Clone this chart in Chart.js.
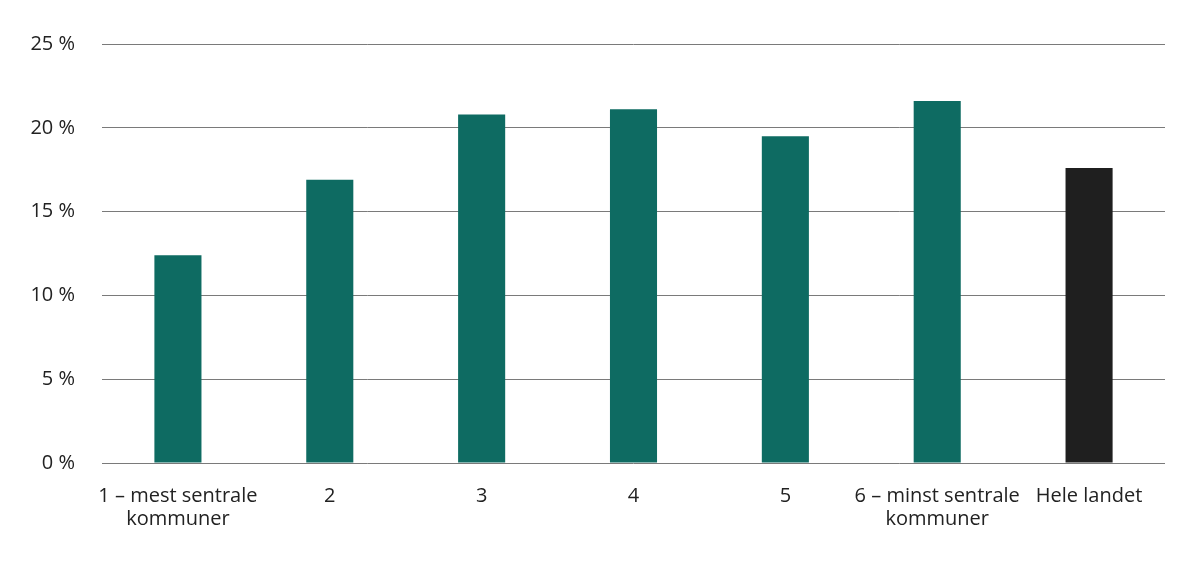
<!DOCTYPE html>
<html>
<head>
<meta charset="utf-8">
<script src="https://cdn.jsdelivr.net/npm/chart.js@4"></script>
<style>
  html, body { margin: 0; padding: 0; background: #fff; }
  #wrap { width: 1200px; height: 568px; }
</style>
</head>
<body>
<div id="wrap"><canvas id="myChart" width="1200" height="568"></canvas></div>
<script>
const categories = [
  ['1 – mest sentrale', 'kommuner'],
  '2',
  '3',
  '4',
  '5',
  ['6 – minst sentrale', 'kommuner'],
  'Hele landet'
];
const shares = [12.4, 16.9, 20.8, 21.1, 19.5, 21.6, 17.6];
const barColors = ['#0e6b62', '#0e6b62', '#0e6b62', '#0e6b62', '#0e6b62', '#0e6b62', '#1f1f1f'];
const yTicks = [0, 5, 10, 15, 20, 25];

Chart.defaults.font.family = '"Open Sans", sans-serif';
Chart.defaults.font.size = 20;
Chart.defaults.color = '#222';

const ctx = document.getElementById('myChart').getContext('2d');
const myChart = new Chart(ctx, {
  type: 'bar',
  data: {
    labels: categories,
    datasets: [{
      data: shares,
      backgroundColor: barColors,
      categoryPercentage: 1,
      barPercentage: 0.31
    }]
  },
  options: {
    responsive: false,
    animation: false,
    layout: { padding: { left: 0, right: 35, top: 44, bottom: 15 } },
    plugins: {
      legend: { display: false },
      tooltip: { enabled: false }
    },
    scales: {
      x: {
        grid: { display: false, drawTicks: false },
        border: { display: false },
        ticks: { padding: 22, maxRotation: 0, autoSkip: false, font: { lineHeight: 1.15 } }
      },
      y: {
        min: 0,
        max: 25,
        afterBuildTicks: axis => { axis.ticks = yTicks.map(v => ({ value: v })); },
        afterFit: axis => { axis.width = 102; },
        grid: { color: '#7a7a7a', lineWidth: 1, drawTicks: false },
        border: { display: false },
        ticks: { padding: 27, callback: v => v + ' %' }
      }
    }
  }
});
</script>
</body>
</html>
